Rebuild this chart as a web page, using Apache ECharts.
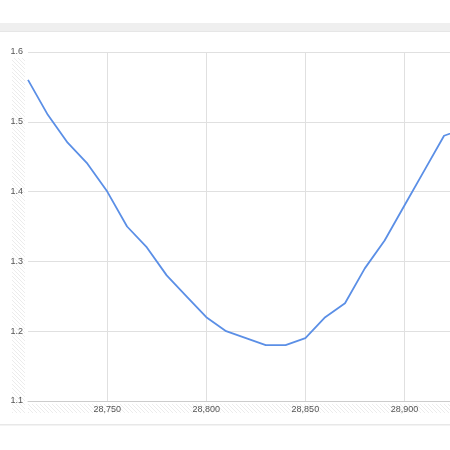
<!DOCTYPE html>
<html>
<head>
<meta charset="utf-8">
<style>html,body{margin:0;padding:0;background:#fff}#c{width:450px;height:450px}</style>
<script src="https://cdn.jsdelivr.net/npm/echarts@6/dist/echarts.min.js"></script>
</head>
<body>
<div id="c"></div>
<script>
var xValues = [28710, 28720, 28730, 28740, 28750, 28760, 28770, 28780, 28790, 28800, 28810, 28820, 28830, 28840, 28850, 28860, 28870, 28880, 28890, 28900, 28910, 28920, 28930];
var yValues = [1.56, 1.51, 1.47, 1.44, 1.40, 1.35, 1.32, 1.28, 1.25, 1.22, 1.20, 1.19, 1.18, 1.18, 1.19, 1.22, 1.24, 1.29, 1.33, 1.38, 1.43, 1.48, 1.49];
var xTicks = [28750, 28800, 28850, 28900];
var yTicks = [1.1, 1.2, 1.3, 1.4, 1.5, 1.6];

function hatch() {
  var cv = document.createElement('canvas');
  cv.width = 4; cv.height = 4;
  var g = cv.getContext('2d');
  g.fillStyle = '#ffffff'; g.fillRect(0, 0, 4, 4);
  g.strokeStyle = '#ececec'; g.lineWidth = 1;
  g.beginPath(); g.moveTo(0, 0); g.lineTo(4, 4); g.stroke();
  g.beginPath(); g.moveTo(-1, 3); g.lineTo(1, 5); g.stroke();
  g.beginPath(); g.moveTo(3, -1); g.lineTo(5, 1); g.stroke();
  return cv;
}
var pat = { image: hatch(), repeat: 'repeat' };

var chart = echarts.init(document.getElementById('c'), null, { renderer: 'canvas' });
chart.setOption({
  animation: false,
  backgroundColor: '#ffffff',
  graphic: [
    { type: 'rect', shape: { x: 0, y: 23, width: 450, height: 9 }, style: { fill: '#efefef' }, z: -10 },
    { type: 'rect', shape: { x: 0, y: 31, width: 450, height: 1 }, style: { fill: '#e6e6e6' }, z: -10 },
    { type: 'rect', shape: { x: 12, y: 58, width: 13, height: 355 }, style: { fill: pat }, z: -10 },
    { type: 'rect', shape: { x: 28, y: 404, width: 422, height: 9 }, style: { fill: pat }, z: -10 },
    { type: 'rect', shape: { x: 0, y: 424, width: 450, height: 1.5 }, style: { fill: '#e8e8e8' }, z: -10 }
  ],
  grid: { left: 28, right: 0, top: 52, bottom: 49, containLabel: false },
  xAxis: {
    type: 'value',
    min: 28710,
    max: 28923,
    axisLine: { show: true, lineStyle: { color: '#cccccc', width: 1 } },
    axisTick: { show: false },
    splitLine: { show: true, showMinLine: false, showMaxLine: false, lineStyle: { color: '#e0e0e0', width: 1 } },
    axisLabel: {
      showMinLabel: false, showMaxLabel: false,
      color: '#555', fontSize: 9, fontFamily: 'Liberation Sans, Arial, sans-serif', margin: 4,
      formatter: function (v) { return xTicks.indexOf(v) >= 0 ? v.toLocaleString('en-US') : ''; }
    }
  },
  yAxis: {
    type: 'value',
    min: yTicks[0],
    max: yTicks[yTicks.length - 1],
    interval: 0.1,
    axisLine: { show: false },
    axisTick: { show: false },
    splitLine: { show: true, lineStyle: { color: '#e0e0e0', width: 1 } },
    axisLabel: {
      color: '#555', fontSize: 9, fontFamily: 'Liberation Sans, Arial, sans-serif', margin: 5,
      formatter: function (v) { return (Math.round(v * 10) / 10).toFixed(1); }
    }
  },
  series: [{
    type: 'line',
    data: xValues.map(function (x, i) { return [x, yValues[i]]; }),
    showSymbol: false,
    symbol: 'none',
    lineStyle: { color: '#5b8fe6', width: 1.8 },
    clip: true
  }]
});
</script>
</body>
</html>
